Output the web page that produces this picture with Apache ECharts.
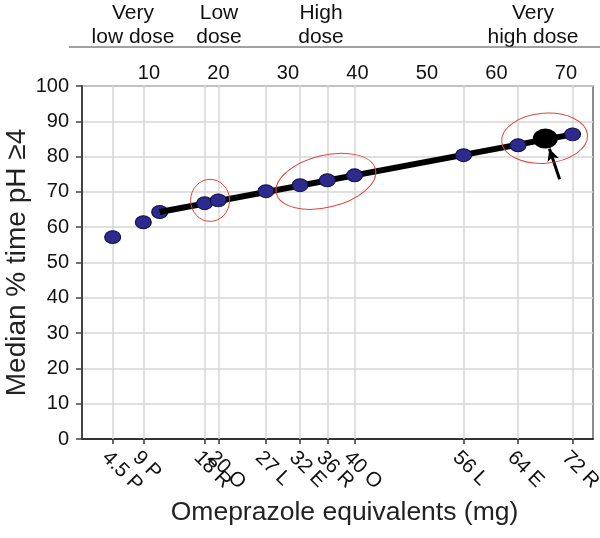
<!DOCTYPE html>
<html><head><meta charset="utf-8">
<script src="https://cdn.jsdelivr.net/npm/echarts@6/dist/echarts.min.js"></script>
<style>html,body{margin:0;padding:0;background:#fff}#c{width:600px;height:538px}</style>
</head><body><div id="c"></div>
<script>
// ---- data ----
const doseValues   = [4.5, 9, 18, 20, 27, 32, 36, 40, 56, 64, 72];
const doseLabels   = ['4.5 P', '9 P', '18 R', '20 O', '27 L', '32 E', '36 R', '40 O', '56 L', '64 E', '72 R'];
const medianValues = [57.2, 61.4, 66.8, 67.6, 70.2, 71.9, 73.3, 74.7, 80.4, 83.2, 86.3];
const lineStartPoint = [11.4, 64.3];
const trendX = [11.4, 72];
const trendY = [64.3, 86.3];
const highlightPoint = [68, 85.1];
const arrowFrom = [70.1, 73.6];
const arrowTo   = [68.6, 82.2];
const yTickStep = 10;
const topTickValues = [10, 20, 30, 40, 50, 60, 70];
const doseGroupTitles = [['Very', 'low dose'], ['Low', 'dose'], ['High', 'dose'], ['Very', 'high dose']];
// ellipse annotations: centre in data units
const ellipseCentres = [[18.8, 67.6], [35.8, 73.0], [67.9, 85.2]];

const FONT = "'Liberation Sans', Arial, sans-serif";
const chart = echarts.init(document.getElementById('c'));

const labelMap = {};
doseValues.forEach((v, i) => labelMap[v] = doseLabels[i]);

const option = {
  animation: false,
  backgroundColor: '#fff',
  textStyle: { fontFamily: FONT },
  grid: { left: 82, right: 7, top: 86, bottom: 99, show: true, borderColor: '#666', borderWidth: 1.5,
          containLabel: false, outerBoundsMode: 'none' },
  xAxis: [
    {
      type: 'value', min: 0, max: 75, position: 'bottom',
      name: 'Omeprazole equivalents (mg)', nameLocation: 'middle', nameGap: 60, nameMoveOverlap: false,
      nameTextStyle: { fontSize: 26.5, color: '#222', fontFamily: FONT, padding: [0, 0, 0, 14] },
      axisLine: { show: true, lineStyle: { color: '#333', width: 2 } },
      axisTick: { show: true, customValues: doseValues, length: 5, lineStyle: { color: '#333', width: 1.5 } },
      axisLabel: {
        customValues: doseValues, rotate: -45, margin: 8, fontSize: 20.5, color: '#111', fontFamily: FONT,
        align: 'left', verticalAlign: 'top',
        formatter: v => labelMap[v] || ''
      },
      splitLine: { show: false }
    },
    {
      type: 'value', min: 0.36, max: 73.9, position: 'top',
      axisLine: { show: false }, axisTick: { show: false },
      axisLabel: { customValues: topTickValues, fontSize: 20, color: '#111', margin: 3, fontFamily: FONT },
      splitLine: { show: false }
    }
  ],
  yAxis: {
    type: 'value', min: 0, max: 100, interval: yTickStep,
    name: 'Median % time pH \u22654', nameLocation: 'middle', nameGap: 51, nameMoveOverlap: false,
    nameTextStyle: { fontSize: 28, color: '#222', fontFamily: FONT },
    axisLine: { show: true, lineStyle: { color: '#444', width: 2 } },
    axisTick: { show: true, length: 6, lineStyle: { color: '#444', width: 1.5 } },
    axisLabel: { fontSize: 20, color: '#111', margin: 13, fontFamily: FONT },
    splitLine: { show: true, lineStyle: { color: '#d6d6d6', width: 1.5 } }
  },
  series: [
    {
      type: 'line', name: 'grid', data: [], xAxisIndex: 0,
      markLine: {
        silent: true, symbol: ['none', 'none'], label: { show: false },
        lineStyle: { color: '#d6d6d6', width: 1.5, type: 'solid' },
        data: doseValues.map(v => ({ xAxis: v }))
      },
      z: 1
    },
    {
      type: 'scatter', name: 'start', xAxisIndex: 0,
      data: [lineStartPoint], symbol: 'circle', symbolSize: [16, 13],
      itemStyle: { color: '#2c2a8c', borderColor: '#101040', borderWidth: 1, opacity: 1 }, z: 3
    },
    {
      type: 'line', name: 'trend', xAxisIndex: 0,
      data: trendX.map((x, i) => [x, trendY[i]]), symbol: 'none',
      lineStyle: { color: '#000', width: 6 }, z: 4
    },
    {
      type: 'scatter', name: 'doses', xAxisIndex: 0,
      data: doseValues.map((x, i) => [x, medianValues[i]]), symbol: 'circle', symbolSize: [16, 13],
      itemStyle: { color: '#2c2a8c', borderColor: '#101040', borderWidth: 1, opacity: 1 }, z: 5
    },
    {
      type: 'scatter', name: 'highlight', xAxisIndex: 0,
      data: [highlightPoint], symbol: 'circle', symbolSize: [25, 20],
      itemStyle: { color: '#000', opacity: 1 }, z: 6,
      markLine: {
        silent: true, symbol: ['none', 'arrow'], symbolSize: [9, 12], label: { show: false },
        lineStyle: { color: '#000', width: 3, type: 'solid' },
        data: [[{ coord: arrowFrom }, { coord: arrowTo }]]
      }
    }
  ]
};
chart.setOption(option);

function addGraphics() {
  const els = [];
  const titleX = [133, 219, 321, 533];
  doseGroupTitles.forEach((t, i) => {
    els.push({ type: 'text', x: titleX[i], y: 13, style: { text: t[0], font: '21px ' + FONT, fill: '#111', align: 'center', verticalAlign: 'middle' } });
    els.push({ type: 'text', x: titleX[i], y: 37, style: { text: t[1], font: '21px ' + FONT, fill: '#111', align: 'center', verticalAlign: 'middle' } });
  });
  els.push({ type: 'line', shape: { x1: 69, y1: 47, x2: 600, y2: 47 }, style: { stroke: '#444', lineWidth: 1.2 } });
  const radii = [[19.5, 21], [51, 26], [43, 25]];
  const rot = [0, 0.24, 0.08];
  ellipseCentres.forEach((c, i) => {
    const p = chart.convertToPixel({ xAxisIndex: 0, yAxisIndex: 0 }, c);
    els.push({ type: 'ellipse', x: p[0], y: p[1], rotation: rot[i],
      shape: { cx: 0, cy: 0, rx: radii[i][0], ry: radii[i][1] },
      style: { fill: 'none', stroke: '#e0453c', lineWidth: 1 }, z: 10 });
  });
  chart.setOption({ graphic: els });
}
addGraphics();
</script></body></html>
